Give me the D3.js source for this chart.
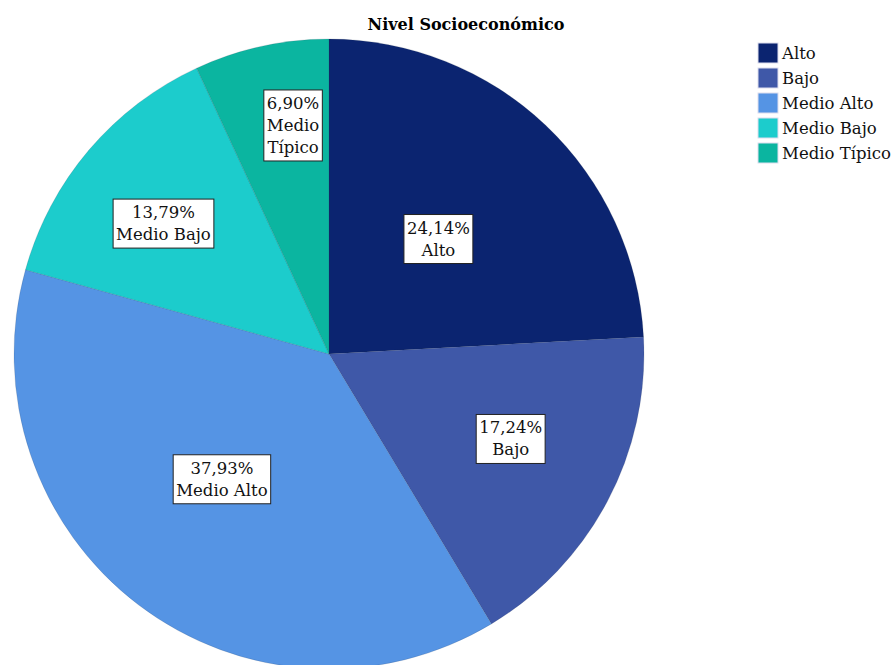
<!DOCTYPE html>
<html>
<head>
<meta charset="utf-8">
<script src="https://cdn.jsdelivr.net/npm/d3@7"></script>
<style>
  body { margin: 0; background: #fff; }
  text { font-family: "DejaVu Serif", "Liberation Serif", serif; }
</style>
</head>
<body>
<div id="chart"></div>
<script>
var categories = ['Alto', 'Bajo', 'Medio Alto', 'Medio Bajo', 'Medio Típico'];
var percents = [24.14, 17.24, 37.93, 13.79, 6.90];
var labelText = ['24,14%', '17,24%', '37,93%', '13,79%', '6,90%'];
var colours = ['#0b2470', '#3f58a8', '#5594e4', '#1ccccc', '#0bb5a0'];
// label box placement: fraction of radius, and small turn (degrees) off the slice middle
var labelRadius = [0.505, 0.636, 0.522, 0.67, 0.736];
var labelTurn = [0, -3, 3.4, -2, 3.5];

var width = 893, height = 665;
var cx = 329, cy = 354, r = 315;

var svg = d3.select('#chart').append('svg').attr('width', width).attr('height', height);

svg.append('text')
    .attr('x', 466).attr('y', 30)
    .attr('text-anchor', 'middle')
    .style('font-weight', 'bold').style('font-size', '16px')
    .text('Nivel Socioeconómico');

var data = categories.map(function(c, i) {
    return { name: c, value: percents[i], label: labelText[i], colour: colours[i], lr: labelRadius[i], lt: labelTurn[i] };
});

var pie = d3.pie().sort(null).value(function(d) { return d.value; });
var arc = d3.arc().innerRadius(0).outerRadius(r);

var g = svg.append('g').attr('transform', 'translate(' + cx + ',' + cy + ')');

g.selectAll('path')
    .data(pie(data))
    .enter().append('path')
    .attr('d', arc)
    .attr('fill', function(d) { return d.data.colour; })
    .attr('stroke', '#2a3a4a').attr('stroke-width', 0.4).attr('stroke-opacity', 0.4);

var labels = g.selectAll('g.lbl')
    .data(pie(data))
    .enter().append('g').attr('class', 'lbl')
    .attr('transform', function(d) {
        var a = (d.startAngle + d.endAngle) / 2 + d.data.lt * Math.PI / 180, dist = r * d.data.lr;
        return 'translate(' + (Math.sin(a) * dist) + ',' + (-Math.cos(a) * dist) + ')';
    });

labels.each(function(d) {
    var sel = d3.select(this);
    var lines = [d.data.label];
    if (d.data.name === 'Medio Típico') { lines.push('Medio'); lines.push('Típico'); }
    else lines.push(d.data.name);
    var lh = 22;
    var t = sel.append('text').attr('text-anchor', 'middle').style('font-size', '16.5px').attr('fill', '#111');
    lines.forEach(function(l, k) {
        t.append('tspan').attr('x', 0).attr('y', (k - (lines.length - 1) / 2) * lh + 6).text(l);
    });
    var bb = t.node().getBBox();
    sel.insert('rect', 'text')
        .attr('x', bb.x - 3).attr('y', bb.y - 4)
        .attr('width', bb.width + 6).attr('height', bb.height + 8)
        .attr('fill', '#fff').attr('stroke', '#222').attr('stroke-width', 1);
});

var legend = svg.append('g').attr('transform', 'translate(758,43)');
var items = legend.selectAll('g')
    .data(data)
    .enter().append('g')
    .attr('transform', function(d, i) { return 'translate(0,' + i * 25 + ')'; });
items.append('rect')
    .attr('width', 20).attr('height', 20)
    .attr('fill', function(d) { return d.colour; })
    .attr('stroke', '#dde').attr('stroke-width', 1);
items.append('text')
    .attr('x', 24).attr('y', 16)
    .style('font-size', '16.5px').attr('fill', '#111')
    .text(function(d) { return d.name; });
</script>
</body>
</html>
